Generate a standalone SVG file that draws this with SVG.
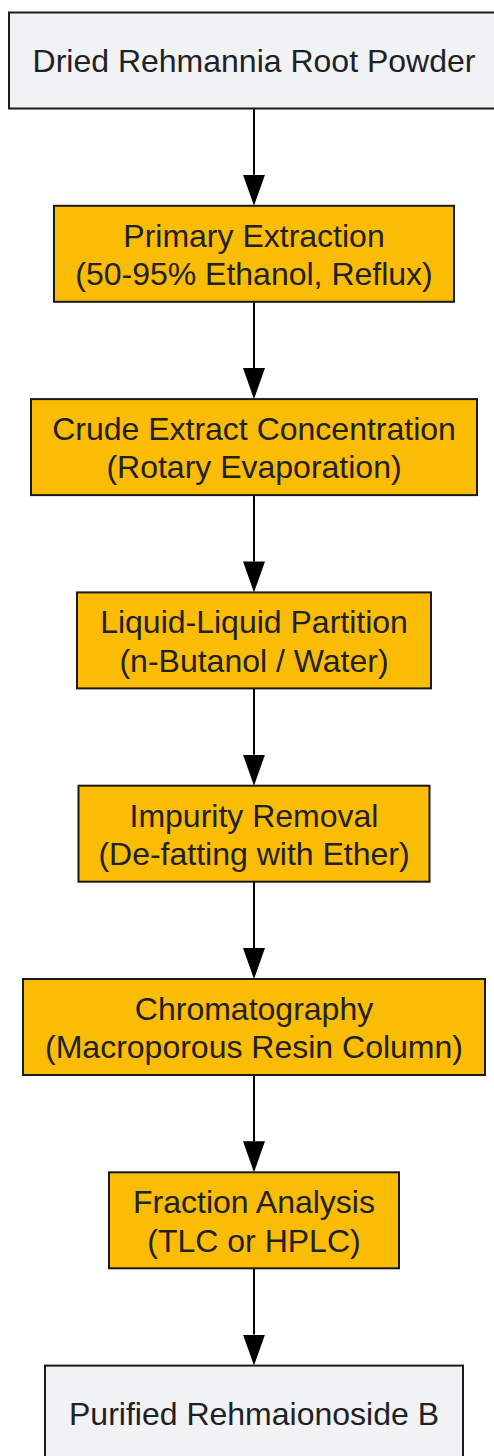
<svg xmlns="http://www.w3.org/2000/svg" width="494" height="1456" viewBox="0 0 494 1456">
  <style>
    .box { stroke: #1a1a1a; stroke-width: 2; }
    .gray { fill: #f1f2f4; }
    .amber { fill: #fbbc05; }
    .lbl { font-family: "Liberation Sans", Arial, sans-serif; font-size: 32px; fill: #202124; text-anchor: middle; }
    .edge { stroke: #000; stroke-width: 2; fill: none; }
  </style>
  <defs>
    <marker id="arrow" viewBox="0 0 31 22" refX="0" refY="11" markerWidth="31" markerHeight="22" markerUnits="userSpaceOnUse" orient="auto">
      <path d="M0,0 L31,11 L0,22 z" fill="#000"/>
    </marker>
  </defs>
  <rect width="494" height="1456" fill="#fff"/>

  <g id="connectors">
    <path class="edge" d="M254,108.5 V174.8" marker-end="url(#arrow)"/>
    <path class="edge" d="M254,301.8 V368.1" marker-end="url(#arrow)"/>
    <path class="edge" d="M254,495.1 V561.4" marker-end="url(#arrow)"/>
    <path class="edge" d="M254,688.4 V754.7" marker-end="url(#arrow)"/>
    <path class="edge" d="M254,881.7 V948" marker-end="url(#arrow)"/>
    <path class="edge" d="M254,1075 V1141.3" marker-end="url(#arrow)"/>
    <path class="edge" d="M254,1268.3 V1334.6" marker-end="url(#arrow)"/>
  </g>

  <g id="node-dried">
    <rect class="box gray" x="9" y="12.5" width="490" height="96"/>
    <text class="lbl" x="254" y="72">Dried Rehmannia Root Powder</text>
  </g>
  <g id="node-primary">
    <rect class="box amber" x="54" y="205.8" width="400" height="96"/>
    <text class="lbl" x="254" y="246.8">Primary Extraction</text>
    <text class="lbl" x="254" y="285">(50-95% Ethanol, Reflux)</text>
  </g>
  <g id="node-crude">
    <rect class="box amber" x="31" y="399.1" width="446" height="96"/>
    <text class="lbl" x="254" y="440.1">Crude Extract Concentration</text>
    <text class="lbl" x="254" y="478.3">(Rotary Evaporation)</text>
  </g>
  <g id="node-partition">
    <rect class="box amber" x="77" y="592.4" width="354" height="96"/>
    <text class="lbl" x="254" y="633.4">Liquid-Liquid Partition</text>
    <text class="lbl" x="254" y="671.6">(n-Butanol / Water)</text>
  </g>
  <g id="node-impurity">
    <rect class="box amber" x="78.5" y="785.7" width="351" height="96"/>
    <text class="lbl" x="254" y="826.7">Impurity Removal</text>
    <text class="lbl" x="254" y="864.9">(De-fatting with Ether)</text>
  </g>
  <g id="node-chromatography">
    <rect class="box amber" x="23" y="979" width="462" height="96"/>
    <text class="lbl" x="254" y="1020">Chromatography</text>
    <text class="lbl" x="254" y="1058.2">(Macroporous Resin Column)</text>
  </g>
  <g id="node-fraction">
    <rect class="box amber" x="109" y="1172.3" width="290" height="96"/>
    <text class="lbl" x="254" y="1213.3">Fraction Analysis</text>
    <text class="lbl" x="254" y="1251.5">(TLC or HPLC)</text>
  </g>
  <g id="node-purified">
    <rect class="box gray" x="45" y="1365.6" width="418" height="96"/>
    <text class="lbl" x="254" y="1425">Purified Rehmaionoside B</text>
  </g>
</svg>
